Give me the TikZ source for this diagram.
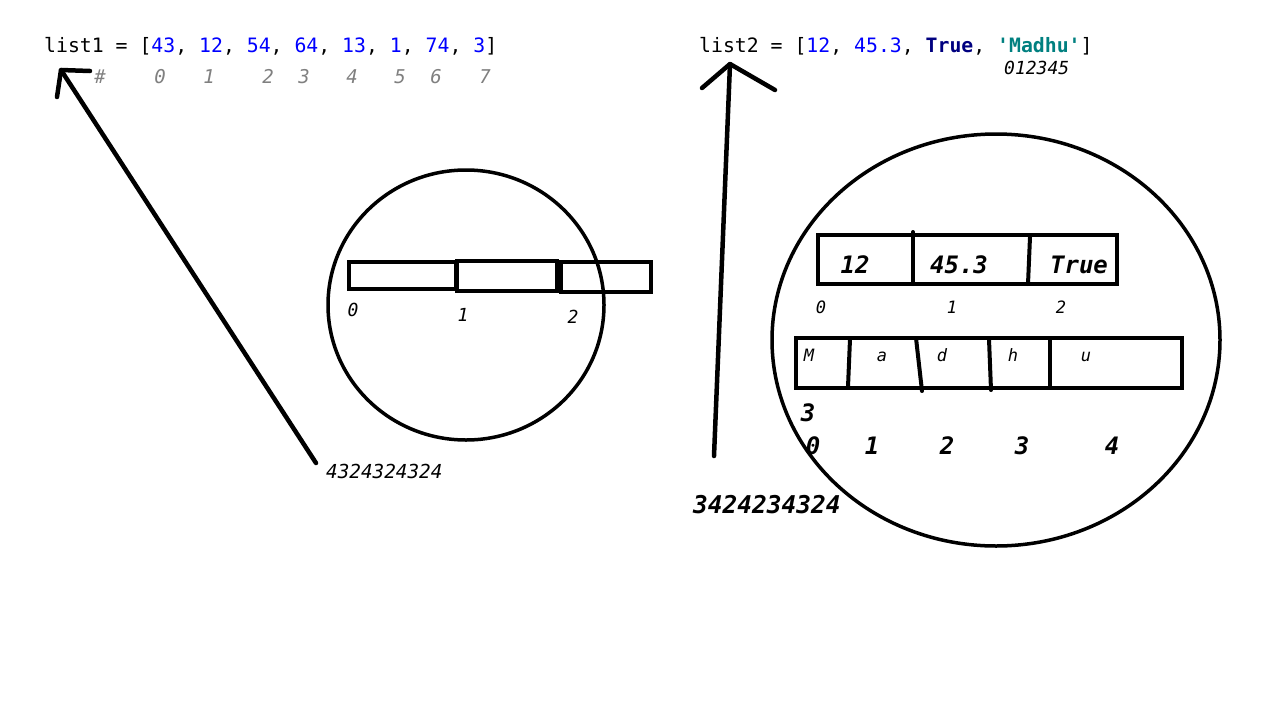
\documentclass[tikz,border=0pt]{standalone}
\usepackage{fontspec}
\setmonofont{DejaVu Sans Mono}
\definecolor{numblue}{RGB}{0,0,255}
\definecolor{navykw}{RGB}{0,0,128}
\definecolor{tealstr}{RGB}{0,128,128}
\definecolor{idxgray}{RGB}{128,128,128}
\begin{document}
\begin{tikzpicture}[x=1pt,y=-1pt,
  ink/.style={line width=4.5pt, line cap=round, line join=round},
  boxline/.style={line width=4pt},
  ring/.style={line width=3.5pt},
  code/.style={inner sep=0pt, font=\ttfamily\fontsize{19.8}{22}\selectfont},
  idx/.style={inner sep=0pt, anchor=base, text=idxgray, font=\ttfamily\itshape\fontsize{19}{22}\selectfont},
  smallit/.style={inner sep=0pt, anchor=base, font=\ttfamily\itshape\fontsize{18}{22}\selectfont},
  bigbi/.style={inner sep=0pt, anchor=base, font=\ttfamily\bfseries\itshape\fontsize{24}{28}\selectfont},
  letter/.style={inner sep=0pt, anchor=base, font=\ttfamily\itshape\fontsize{17}{20}\selectfont}]
\useasboundingbox (0,0) rectangle (1285,718);
\fill[white] (0,0) rectangle (1285,718);

% code lines
\node[code, anchor=base west] (list1) at (44,52) {list1 = [\textcolor{numblue}{43}, \textcolor{numblue}{12}, \textcolor{numblue}{54}, \textcolor{numblue}{64}, \textcolor{numblue}{13}, \textcolor{numblue}{1}, \textcolor{numblue}{74}, \textcolor{numblue}{3}]};
\node[code, anchor=base west] (list2) at (699,52) {list2 = [\textcolor{numblue}{12}, \textcolor{numblue}{45.3}, \textcolor{navykw}{\bfseries True}, \textcolor{tealstr}{\bfseries 'Madhu'}]};

% index comment row for list1
\foreach \t/\x [count=\i] in {\#/100, 0/160, 1/209, 2/268, 3/304, 4/352, 5/400, 6/436, 7/485}
  \node[idx] (ix\i) at (\x,83) {\t};
\node[smallit, anchor=base west] (idx2) at (1004,74) {012345};

% arrow 1
\coordinate (a1tip) at (61,70);
\coordinate (a1tail) at (316,463);
\draw[ink] (a1tail) -- (a1tip);
\draw[ink] (57,97) -- (a1tip) -- (90,71);
\node[inner sep=0pt, anchor=base west, font=\ttfamily\itshape\fontsize{19.3}{22}\selectfont] (addr1) at (326,478) {4324324324};

% arrow 2
\coordinate (a2tip) at (730,64);
\coordinate (a2tail) at (714,456);
\draw[ink] (a2tail) -- (a2tip);
\draw[ink] (702,88) -- (a2tip) -- (775,90);
\node[inner sep=0pt, anchor=base west, font=\ttfamily\bfseries\itshape\fontsize{24.5}{28}\selectfont] (addr2) at (693,513) {3424234324};

% circle 1 with cells
\draw[ring] (466,305) ellipse [x radius=138, y radius=135];
\draw[boxline] (349,262) rectangle (456,289);
\draw[boxline] (457,261) rectangle (557,291);
\draw[boxline] (561,262) rectangle (651,292);
\node[smallit] (c1i0) at (353,316) {0};
\node[smallit] (c1i1) at (463,321) {1};
\node[smallit] (c1i2) at (573,323) {2};

% circle 2
\draw[ring] (996,340) ellipse [x radius=224, y radius=206];
\draw[boxline] (818,235) rectangle (1117,284);
\draw[boxline, line cap=round] (913,232) -- (913,284);
\draw[boxline, line cap=round] (1030,237) -- (1028,284);
\node[bigbi] (v12) at (855,273) {12};
\node[bigbi] (v453) at (959,273) {45.3};
\node[bigbi] (vtrue) at (1079,273) {True};
\node[letter] (r0) at (821,313) {0};
\node[letter] (r1) at (952,313) {1};
\node[letter] (r2) at (1061,313) {2};

\draw[boxline] (796,338) rectangle (1182,388);
\draw[boxline, line cap=round] (850,339) -- (848,387);
\draw[boxline, line cap=round] (916,338) -- (922,391);
\draw[boxline, line cap=round] (989,339) -- (991,390);
\draw[boxline] (1050,339) -- (1050,387);
\node[letter] (lM) at (809,361) {M};
\node[letter] (la) at (882,361) {a};
\node[letter] (ld) at (942,361) {d};
\node[letter] (lh) at (1013,361) {h};
\node[letter] (lu) at (1086,361) {u};

\node[bigbi] (s3) at (808,421) {3};
\node[bigbi] (s0) at (813,454) {0};
\node[bigbi] (s1) at (872,454) {1};
\node[bigbi] (s2) at (947,454) {2};
\node[bigbi] (s3b) at (1022,454) {3};
\node[bigbi] (s4) at (1112,454) {4};
\end{tikzpicture}
\end{document}
